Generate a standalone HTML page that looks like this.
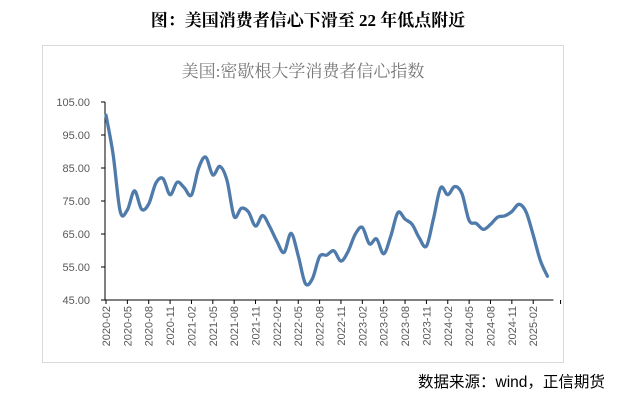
<!DOCTYPE html>
<html><head><meta charset="utf-8"><style>
body{margin:0;width:620px;height:400px;background:#fff;overflow:hidden;position:relative;font-family:"Liberation Sans","Noto Sans CJK SC",sans-serif}
#title{position:absolute;left:0;width:616px;top:6px;text-align:center;font-family:"Liberation Serif","Noto Serif CJK SC",serif;font-weight:bold;font-size:17px;color:#000}
#src{position:absolute;left:418px;top:370px;font-size:15.5px;color:#000;white-space:nowrap}
svg{position:absolute;left:0;top:0}
</style></head><body>
<div id="title">图：美国消费者信心下滑至 22 年低点附近</div>
<svg id="chart" width="620" height="400">
<rect x="42.5" y="45.5" width="521" height="317" fill="#fff" stroke="#d9d9d9"/>
<text x="303" y="77" text-anchor="middle" font-size="17" fill="#777" font-family="Liberation Serif, Noto Serif CJK SC, serif">美国:密歇根大学消费者信心指数</text>
<g id="axes"></g>
<path id="line" fill="none" stroke="#4f7bab" stroke-width="3.3" stroke-linejoin="round" stroke-linecap="round"/>
</svg>
<div id="src">数据来源：wind，正信期货</div>
<script>
const values=[101.0,89.1,71.8,72.3,78.1,72.5,74.1,80.4,81.8,76.9,80.7,
79.0,76.8,84.9,88.3,82.9,85.5,81.2,70.3,72.8,71.7,67.4,70.6,
67.2,62.8,59.4,65.2,58.4,50.0,51.5,58.2,58.6,59.9,56.8,59.7,
64.9,67.0,62.0,63.5,59.0,64.4,71.5,69.5,67.9,63.8,61.3,69.7,
79.0,76.9,79.4,77.2,69.1,68.2,66.4,67.9,70.1,70.5,71.8,74.0,
71.7,64.7,57.0,52.2];
const yTicks=[45,55,65,75,85,95,105];
const xLabels=["2020-02","2020-05","2020-08","2020-11","2021-02","2021-05","2021-08","2021-11","2022-02","2022-05","2022-08","2022-11","2023-02","2023-05","2023-08","2023-11","2024-02","2024-05","2024-08","2024-11","2025-02"];
const X0=106,DX=7.12,Y0=300,Y1=102,VMIN=45,VMAX=105;
const x=i=>X0+i*DX;
const y=v=>Y0-(v-VMIN)/(VMAX-VMIN)*(Y0-Y1);
const NS="http://www.w3.org/2000/svg";
const ax=document.getElementById('axes');
function mk(t,a){const e=document.createElementNS(NS,t);for(const k in a)e.setAttribute(k,a[k]);ax.appendChild(e);return e;}
let e=mk('line',{x1:105,y1:Y1,x2:105,y2:Y0,stroke:'#000','stroke-width':1});


e=mk('line',{x1:105,y1:Y0,x2:x(values.length-1)+6,y2:Y0,stroke:'#000','stroke-width':1});


yTicks.forEach(v=>{
 const t=mk('line',{x1:101,x2:105,y1:y(v),y2:y(v),stroke:'#000'});
 
 
 const l=mk('text',{x:90,y:y(v)+4,'text-anchor':'end','font-size':11,fill:'#595959'});
 l.textContent=v.toFixed(2);
 
 
});
xLabels.forEach((s,k)=>{
 const xx=x(k*3);
 const t=mk('line',{x1:xx,x2:xx,y1:Y0,y2:Y0+4,stroke:'#000'});
 
 
 const l=mk('text',{x:0,y:0,'text-anchor':'end','font-size':11,fill:'#595959',transform:`translate(${xx+4},${Y0+6}) rotate(-90)`});
 l.textContent=s;
 
 
});
const t2=mk('line',{x1:x(63)+6,x2:x(63)+6,y1:Y0,y2:Y0+4,stroke:'#000'});


const P=values.map((v,i)=>[x(i),y(v)]);
let d=`M${P[0][0]},${P[0][1]}`;
for(let i=0;i<P.length-1;i++){
 const p0=P[Math.max(i-1,0)],p1=P[i],p2=P[i+1],p3=P[Math.min(i+2,P.length-1)];
 const c1=[p1[0]+(p2[0]-p0[0])/6,p1[1]+(p2[1]-p0[1])/6];
 const c2=[p2[0]-(p3[0]-p1[0])/6,p2[1]-(p3[1]-p1[1])/6];
 d+=` C${c1[0]},${c1[1]} ${c2[0]},${c2[1]} ${p2[0]},${p2[1]}`;
}
document.getElementById('line').setAttribute('d',d);
</script>
</body></html>
